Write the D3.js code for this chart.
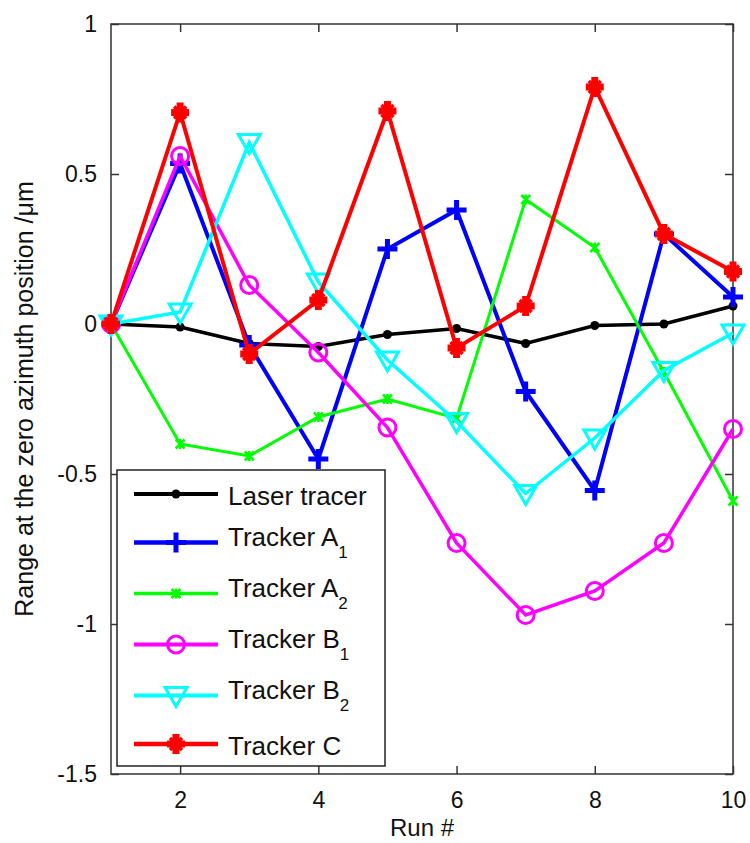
<!DOCTYPE html>
<html>
<head>
<meta charset="utf-8">
<script src="https://cdn.jsdelivr.net/npm/d3@7"></script>
<style>
  body { margin: 0; background: #fff; }
  svg { font-family: "Liberation Sans", Arial, sans-serif; }
</style>
</head>
<body>
<svg width="750" height="843"></svg>
<script>
// values
var runs = [1, 2, 3, 4, 5, 6, 7, 8, 9, 10];
var laserTracer = [0, -0.01, -0.065, -0.075, -0.035, -0.015, -0.065, -0.005, 0, 0.06];
var trackerA1 = [0, 0.535, -0.07, -0.45, 0.25, 0.38, -0.225, -0.555, 0.30, 0.09];
var trackerA2 = [0, -0.40, -0.44, -0.31, -0.25, -0.315, 0.415, 0.255, -0.16, -0.59];
var trackerB1 = [0, 0.56, 0.13, -0.095, -0.345, -0.73, -0.97, -0.89, -0.73, -0.35];
var trackerB2 = [0, 0.04, 0.605, 0.14, -0.12, -0.325, -0.565, -0.38, -0.155, -0.03];
var trackerC = [0, 0.705, -0.10, 0.08, 0.71, -0.08, 0.06, 0.79, 0.30, 0.175];

var yTicks = [-1.5, -1, -0.5, 0, 0.5, 1];
var xTicks = [2, 4, 6, 8, 10];

var series = [
  {name: "Laser tracer", sub: "",  values: laserTracer, color: "#000000", width: 3.5, marker: "dot"},
  {name: "Tracker A",    sub: "1", values: trackerA1,   color: "#0000ff", width: 4,   marker: "plus"},
  {name: "Tracker A",    sub: "2", values: trackerA2,   color: "#00ff00", width: 3,   marker: "x"},
  {name: "Tracker B",    sub: "1", values: trackerB1,   color: "#ff00ff", width: 3.5, marker: "circle"},
  {name: "Tracker B",    sub: "2", values: trackerB2,   color: "#00ffff", width: 3.5, marker: "tri"},
  {name: "Tracker C",    sub: "",  values: trackerC,    color: "#ff0000", width: 4,   marker: "star"}
];

// plot box (note: "top" is reserved on window, so prefixed names)
var plotLeft = 111, plotRight = 733, plotTop = 24, plotBottom = 774;

var x = d3.scaleLinear().domain([1, 10]).range([plotLeft, plotRight]);
var y = d3.scaleLinear().domain([-1.5, 1]).range([plotBottom, plotTop]);

var svg = d3.select("svg");

var plot = svg.append("g");

// ticks point inward, on all four sides like matlab
var tickLen = 8;
var axL = d3.axisLeft(y).tickValues(yTicks).tickSizeInner(-tickLen).tickSizeOuter(0).tickPadding(tickLen + 6).tickFormat(d => String(d));
var axR = d3.axisRight(y).tickValues(yTicks).tickSizeInner(-tickLen).tickSizeOuter(0).tickFormat("");
var axB = d3.axisBottom(x).tickValues(xTicks).tickSizeInner(-tickLen).tickSizeOuter(0).tickPadding(tickLen + 10).tickFormat(d => String(d));
var axT = d3.axisTop(x).tickValues(xTicks).tickSizeInner(-tickLen).tickSizeOuter(0).tickFormat("");

function styleAxis(g) {
  g.select(".domain").remove();
  g.selectAll(".tick line").attr("stroke", "#333").attr("stroke-width", 1.5);
  g.selectAll("text").attr("fill", "#111").style("font-size", "23px").style("font-family", "Liberation Sans, Arial, sans-serif");
}

plot.append("g").attr("transform", `translate(${plotLeft},0)`).call(axL).call(styleAxis);
plot.append("g").attr("transform", `translate(${plotRight},0)`).call(axR).call(styleAxis);
plot.append("g").attr("transform", `translate(0,${plotBottom})`).call(axB).call(styleAxis);
plot.append("g").attr("transform", `translate(0,${plotTop})`).call(axT).call(styleAxis);

plot.append("rect")
  .attr("x", plotLeft).attr("y", plotTop)
  .attr("width", plotRight - plotLeft).attr("height", plotBottom - plotTop)
  .attr("fill", "none").attr("stroke", "#333").attr("stroke-width", 1.5);

// markers
function drawMarker(g, type, color) {
  if (type === "dot") {
    g.append("circle").attr("r", 4.5).attr("fill", color);
  } else if (type === "plus") {
    g.append("path").attr("d", "M-10,0H10M0,-10V10").attr("stroke", color).attr("stroke-width", 5);
  } else if (type === "x") {
    g.append("path").attr("d", "M-4.5,-4.5L4.5,4.5M-4.5,4.5L4.5,-4.5M0,-5V5").attr("stroke", color).attr("stroke-width", 2.5);
  } else if (type === "circle") {
    g.append("circle").attr("r", 8.5).attr("fill", "none").attr("stroke", color).attr("stroke-width", 3);
  } else if (type === "tri") {
    g.append("path").attr("d", "M-11,-8L11,-8L0,11Z").attr("fill", "none").attr("stroke", color).attr("stroke-width", 3);
  } else if (type === "star") {
    g.append("path").attr("d", "M-9,0H9M0,-10V10").attr("stroke", color).attr("stroke-width", 7);
    g.append("path").attr("d", "M-6,-6L6,6M-6,6L6,-6").attr("stroke", color).attr("stroke-width", 3.5);
  }
}

var line = d3.line().x((d, i) => x(runs[i])).y(d => y(d));

series.forEach(function(s) {
  var g = svg.append("g");
  g.append("path")
    .datum(s.values)
    .attr("d", line)
    .attr("fill", "none")
    .attr("stroke", s.color)
    .attr("stroke-width", s.width)
    .attr("stroke-linejoin", "miter");
  g.selectAll("g.mk")
    .data(s.values)
    .enter()
    .append("g")
      .attr("class", "mk")
      .attr("transform", (d, i) => `translate(${x(runs[i])},${y(d)})`)
      .each(function() { drawMarker(d3.select(this), s.marker, s.color); });
});

// legend
var legend = svg.append("g");
legend.append("rect")
  .attr("x", 117).attr("y", 470)
  .attr("width", 268).attr("height", 296)
  .attr("fill", "#fff").attr("stroke", "#222").attr("stroke-width", 1.5);

// rows with a subscript take a little more room
var ly = 471;
series.forEach(function(s, i) {
  var half = s.sub ? 25.5 : 23;
  ly += half;
  var row = legend.append("g");
  row.append("line")
    .attr("x1", 134).attr("x2", 218)
    .attr("y1", ly).attr("y2", ly)
    .attr("stroke", s.color).attr("stroke-width", s.width + 0.5);
  drawMarker(row.append("g").attr("transform", `translate(176,${ly})`), s.marker, s.color);
  var t = row.append("text")
    .attr("x", 228).attr("y", ly + (s.sub ? 3 : 11))
    .attr("fill", "#111")
    .style("font-size", "26px")
    .text(s.name);
  if (s.sub) {
    t.append("tspan").attr("dy", 12).style("font-size", "17px").text(s.sub);
  }
  ly += half;
});

// axis titles
svg.append("text")
  .attr("x", (plotLeft + plotRight) / 2).attr("y", 836)
  .attr("text-anchor", "middle")
  .attr("fill", "#111")
  .style("font-size", "24px")
  .text("Run #");

svg.append("text")
  .attr("transform", `translate(33,${(plotTop + plotBottom) / 2}) rotate(-90)`)
  .attr("text-anchor", "middle")
  .attr("fill", "#111")
  .style("font-size", "25px")
  .text("Range at the zero azimuth position /\u03bcm");
</script>
</body>
</html>
